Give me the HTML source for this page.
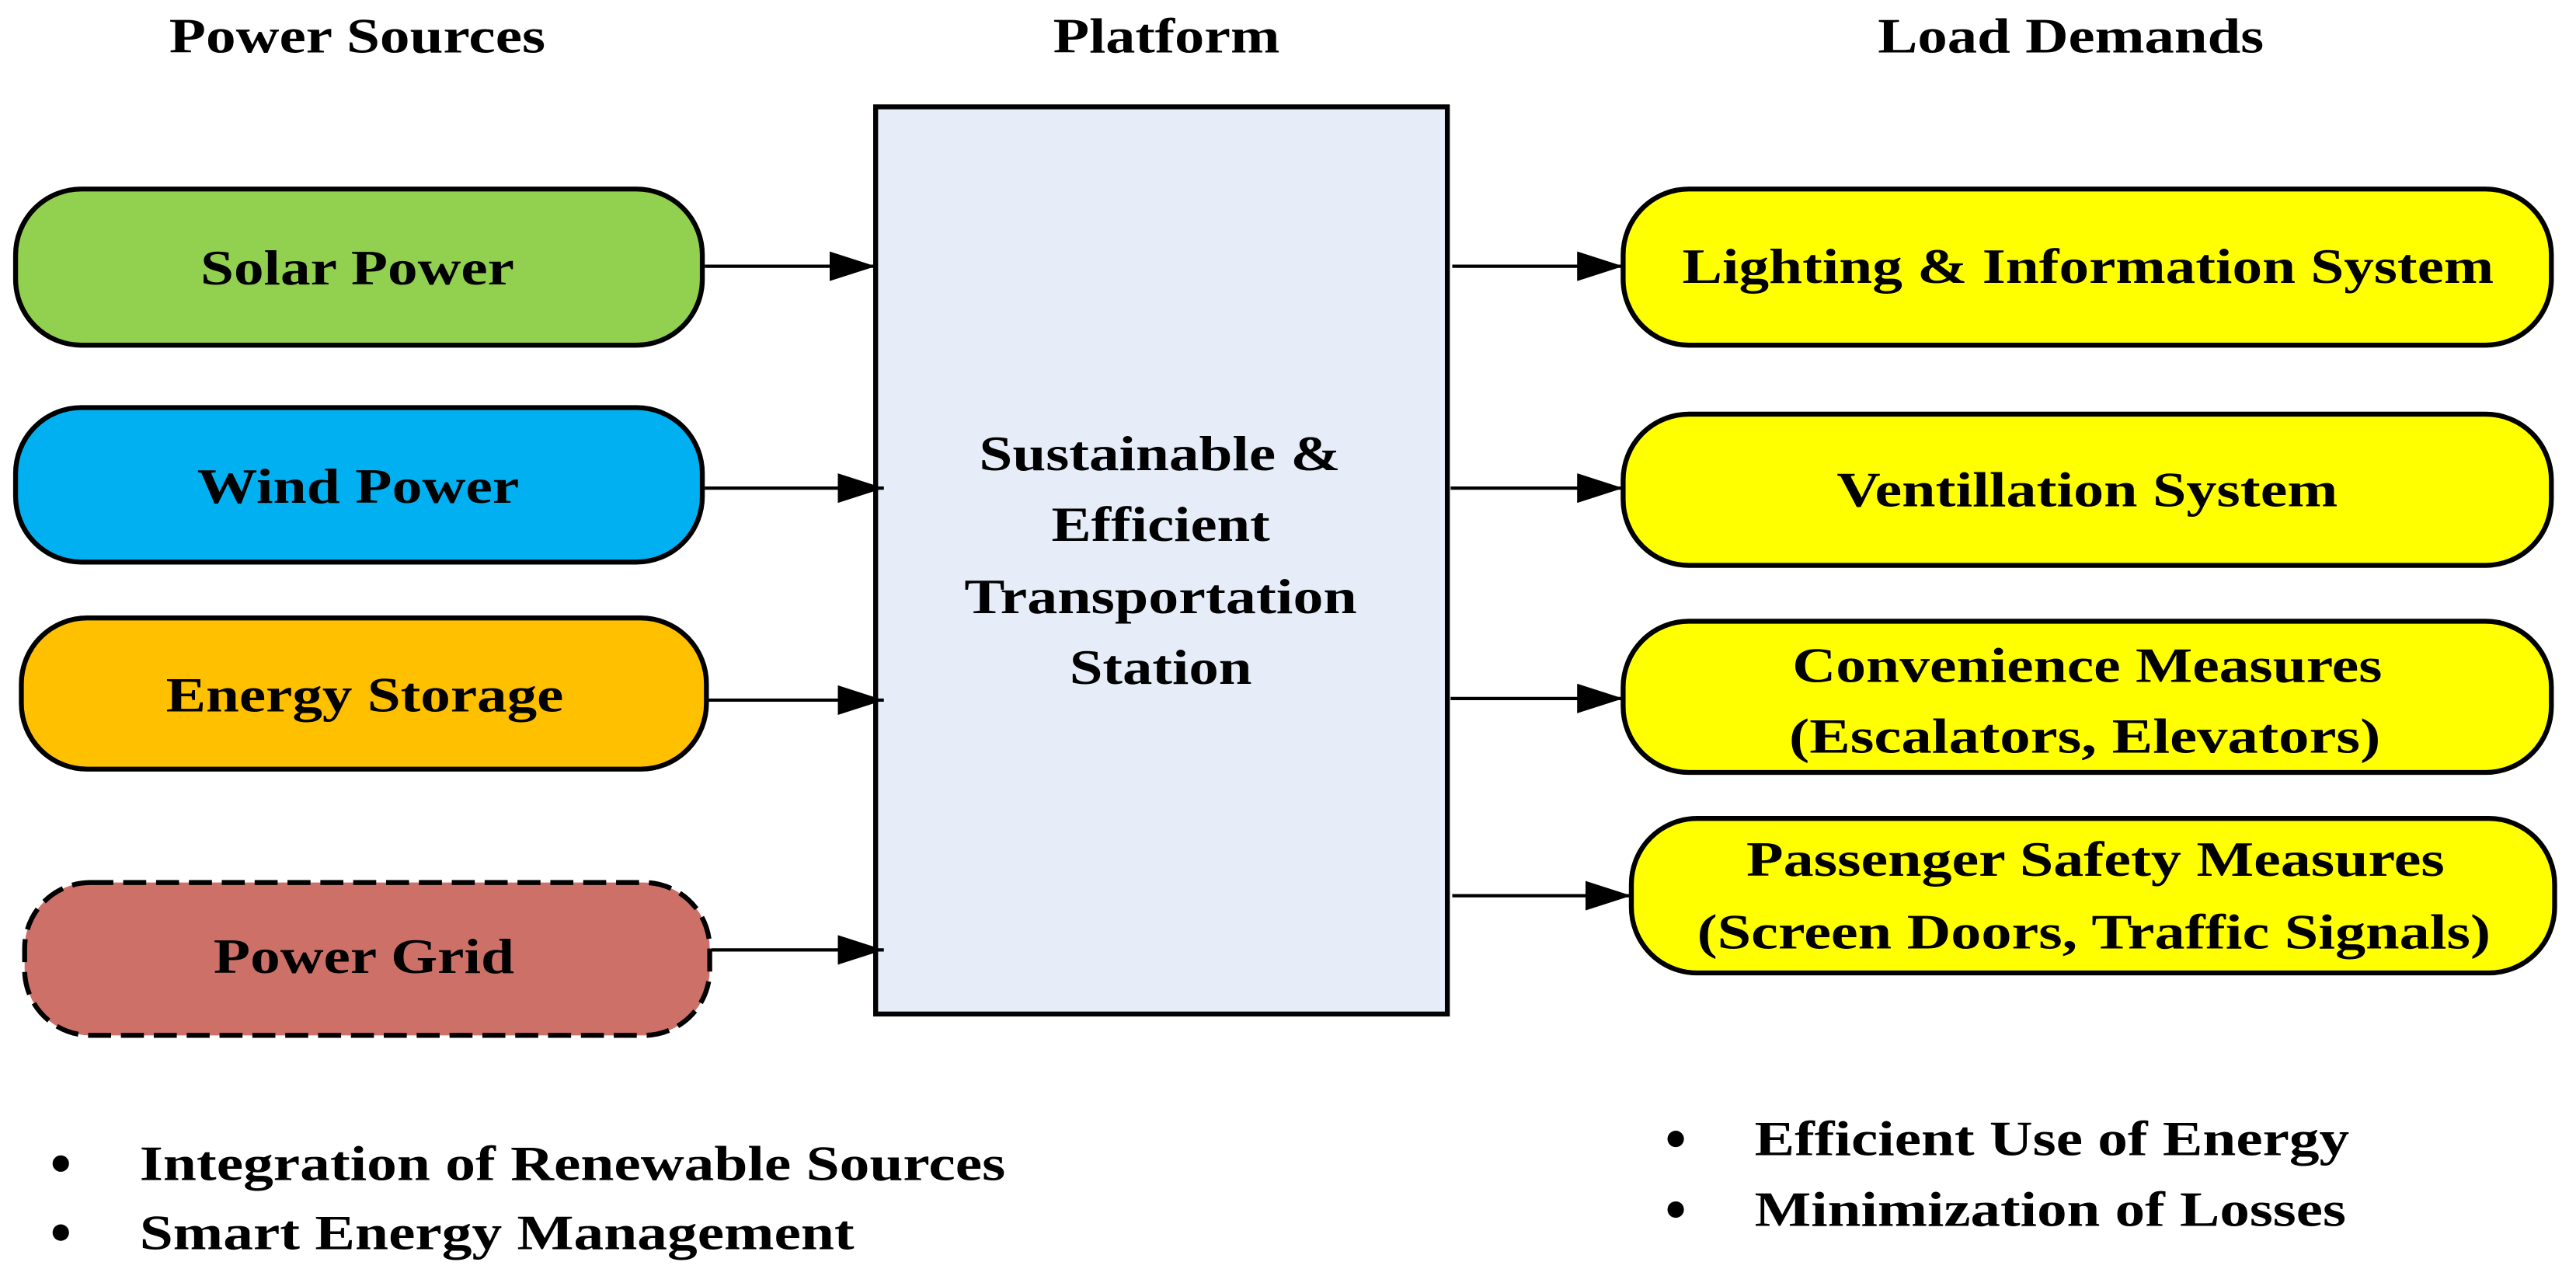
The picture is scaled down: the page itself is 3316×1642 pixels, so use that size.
<!DOCTYPE html>
<html><head><meta charset="utf-8"><style>html,body{margin:0;padding:0;background:#fff}svg{display:block}</style></head>
<body>
<svg xmlns="http://www.w3.org/2000/svg" width="3316" height="1642" viewBox="0 0 1568 776.4" style="font-family:'Liberation Serif','Times New Roman',serif;font-weight:bold" font-size="30">
<defs><marker id="a" markerWidth="28" markerHeight="18" refX="28" refY="9" orient="auto" markerUnits="userSpaceOnUse" viewBox="0 0 28 18"><path d="M0,0 L28,9 L0,18 z" fill="#000"/></marker></defs>
<rect width="1568" height="777" fill="#fff"/>
<text x="103" y="32" textLength="229" lengthAdjust="spacingAndGlyphs">Power Sources</text>
<text x="641" y="32" textLength="138" lengthAdjust="spacingAndGlyphs">Platform</text>
<text x="1143" y="32" textLength="235" lengthAdjust="spacingAndGlyphs">Load Demands</text>
<rect x="533" y="65" width="348" height="552" fill="#e6edf8" stroke="#000" stroke-width="3"/>
<g stroke="#000" stroke-width="3">
<rect x="9.5" y="115" width="418" height="95" rx="40" fill="#92d050"/>
<rect x="9.5" y="248" width="418" height="94" rx="40" fill="#00b0f0"/>
<rect x="13" y="376" width="417" height="92" rx="40" fill="#ffc000"/>
<rect x="15" y="537" width="417" height="93" rx="40" fill="#cd7068" stroke-dasharray="14,6"/>
<rect x="988" y="115" width="565" height="95" rx="40" fill="#ffff00"/>
<rect x="988" y="252" width="565" height="92" rx="40" fill="#ffff00"/>
<rect x="988" y="378" width="565" height="92" rx="40" fill="#ffff00"/>
<rect x="993" y="498" width="562" height="94" rx="40" fill="#ffff00"/>
</g>
<g stroke="#000" stroke-width="2" fill="none">
<path d="M429,162 H533" marker-end="url(#a)"/>
<path d="M429,297 H538" marker-end="url(#a)"/>
<path d="M431,426 H538" marker-end="url(#a)"/>
<path d="M433,578 H538" marker-end="url(#a)"/>
<path d="M884,162 H988" marker-end="url(#a)"/>
<path d="M883,297 H988" marker-end="url(#a)"/>
<path d="M883,425 H988" marker-end="url(#a)"/>
<path d="M884,545 H993" marker-end="url(#a)"/>
</g>
<g>
<text x="122" y="173" textLength="191" lengthAdjust="spacingAndGlyphs">Solar Power</text>
<text x="120" y="306" textLength="196" lengthAdjust="spacingAndGlyphs">Wind Power</text>
<text x="101" y="433" textLength="242" lengthAdjust="spacingAndGlyphs">Energy Storage</text>
<text x="130" y="592" textLength="183" lengthAdjust="spacingAndGlyphs">Power Grid</text>
<text x="1024" y="172" textLength="494" lengthAdjust="spacingAndGlyphs">Lighting &amp; Information System</text>
<text x="1118" y="308" textLength="305" lengthAdjust="spacingAndGlyphs">Ventillation System</text>
<text x="1091" y="415" textLength="359" lengthAdjust="spacingAndGlyphs">Convenience Measures</text>
<text x="1089" y="458" textLength="360" lengthAdjust="spacingAndGlyphs">(Escalators, Elevators)</text>
<text x="1063" y="533" textLength="425" lengthAdjust="spacingAndGlyphs">Passenger Safety Measures</text>
<text x="1033" y="577" textLength="483" lengthAdjust="spacingAndGlyphs">(Screen Doors, Traffic Signals)</text>
<text x="596" y="286" textLength="220" lengthAdjust="spacingAndGlyphs">Sustainable &amp;</text>
<text x="640" y="329" textLength="133" lengthAdjust="spacingAndGlyphs">Efficient</text>
<text x="587" y="373" textLength="239" lengthAdjust="spacingAndGlyphs">Transportation</text>
<text x="651" y="416" textLength="111" lengthAdjust="spacingAndGlyphs">Station</text>
<text x="85" y="718" textLength="527" lengthAdjust="spacingAndGlyphs">Integration of Renewable Sources</text>
<text x="85" y="760" textLength="435" lengthAdjust="spacingAndGlyphs">Smart Energy Management</text>
<text x="1068" y="703" textLength="362" lengthAdjust="spacingAndGlyphs">Efficient Use of Energy</text>
<text x="1068" y="746" textLength="360" lengthAdjust="spacingAndGlyphs">Minimization of Losses</text>
</g>
<g fill="#000">
<circle cx="37" cy="708" r="5"/>
<circle cx="37" cy="750" r="5"/>
<circle cx="1020" cy="693" r="5"/>
<circle cx="1020" cy="736" r="5"/>
</g>
</svg>
</body></html>
